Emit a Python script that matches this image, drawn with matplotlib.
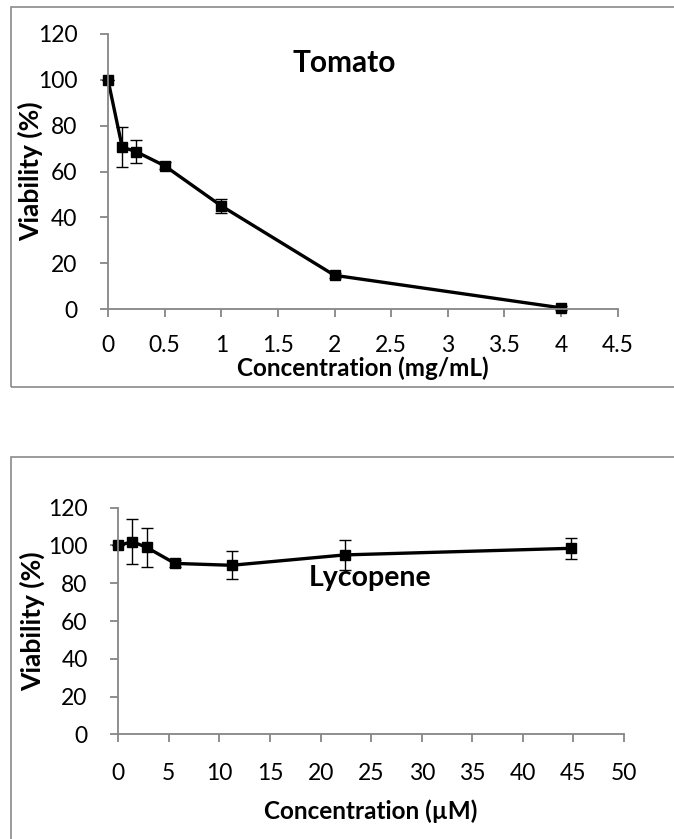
import matplotlib
matplotlib.use("Agg")
import matplotlib.pyplot as plt
from matplotlib.patches import Rectangle

plt.rcParams['font.family'] = ['Lato', 'DejaVu Sans']

# tomato extract
tomato_conc = [0, 0.125, 0.25, 0.5, 1, 2, 4]
tomato_viab = [100, 70.7, 68.6, 62.5, 45.0, 14.7, 0.5]
tomato_err = [0, 8.8, 5.0, 1.5, 3.0, 1.0, 0.8]

# lycopene
lyc_conc = [0, 1.4, 2.8, 5.6, 11.2, 22.4, 44.8]
lyc_viab = [100, 102, 99, 90.5, 89.5, 95, 98.5]
lyc_err = [0, 12, 10.3, 2.0, 7.5, 8.0, 5.7]

W, H = 674, 839
fig = plt.figure(figsize=(W / 100, H / 100), dpi=100)

# chart-area frames
for top, bot in [(7, 387), (457, 850)]:
    fig.patches.append(Rectangle((11 / W, 1 - bot / H), 1.0, (bot - top) / H,
                                 transform=fig.transFigure, fill=False,
                                 edgecolor='#8a8a8a', lw=1.2))

ax1 = fig.add_axes([108 / W, 1 - 309 / H, 509.7 / W, 275 / H])
ax2 = fig.add_axes([118.3 / W, 1 - 734.3 / H, 505.7 / W, 226.6 / H])

def style(ax):
    for s in ['top', 'right']:
        ax.spines[s].set_visible(False)
    for s in ['left', 'bottom']:
        ax.spines[s].set_color('#868686')
        ax.spines[s].set_linewidth(1.3)
    ax.tick_params(direction='out', length=6, width=1.3, color='#868686',
                   labelsize=16.5, labelcolor='black')
    ax.tick_params(axis='x', pad=13)
    ax.tick_params(axis='y', pad=16)
    ax.set_facecolor('none')

ax1.errorbar(tomato_conc, tomato_viab, yerr=tomato_err, color='black', lw=2.4,
             marker='s', markersize=7.5, ecolor='black', elinewidth=1,
             capsize=4.5, capthick=1, clip_on=False)
ax1.set_xlim(0, 4.5)
ax1.set_ylim(0, 120)
ax1.set_xticks([0, 0.5, 1, 1.5, 2, 2.5, 3, 3.5, 4, 4.5])
ax1.set_xticklabels(['0', '0.5', '1', '1.5', '2', '2.5', '3', '3.5', '4', '4.5'])
ax1.set_yticks(range(0, 121, 20))
style(ax1)
ax1.set_xlabel('Concentration (mg/mL)', fontsize=17.5, fontweight='bold')
ax1.set_ylabel('Viability (%)', fontsize=19, fontweight='bold')
ax1.xaxis.set_label_coords(0.5, -0.172)
ax1.yaxis.set_label_coords(-0.127, 0.5)
ax1.text(0.463, 0.895, 'Tomato', transform=ax1.transAxes, fontsize=21.5,
         fontweight='bold', ha='center', va='center')

ax2.errorbar(lyc_conc, lyc_viab, yerr=lyc_err, color='black', lw=2.4,
             marker='s', markersize=7.5, ecolor='black', elinewidth=1,
             capsize=4.5, capthick=1, clip_on=False)
ax2.set_xlim(0, 50)
ax2.set_ylim(0, 120)
ax2.set_xticks(range(0, 51, 5))
ax2.set_yticks(range(0, 121, 20))
style(ax2)
ax2.tick_params(axis='x', pad=15)
ax2.set_xlabel('Concentration (µM)', fontsize=17.5, fontweight='bold')
ax2.set_ylabel('Viability (%)', fontsize=19, fontweight='bold')
ax2.xaxis.set_label_coords(0.5, -0.288)
ax2.yaxis.set_label_coords(-0.145, 0.5)
ax2.text(0.498, 0.69, 'Lycopene', transform=ax2.transAxes, fontsize=20.5,
         fontweight='bold', ha='center', va='center')

fig.savefig('out.png', dpi=100, facecolor='white')
